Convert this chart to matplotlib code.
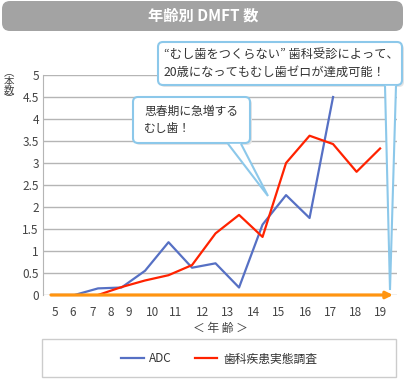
import matplotlib
matplotlib.use("Agg")
import matplotlib.pyplot as plt
from matplotlib.patches import FancyBboxPatch, Polygon, Rectangle
from matplotlib.transforms import Affine2D

plt.rcParams['font.family'] = ['Noto Sans CJK JP', 'DejaVu Sans']

# data
ages_adc = [5, 6, 7, 8, 9, 10, 11, 12, 13, 14, 15, 16, 17]
adc = [0, 0, 0.15, 0.17, 0.55, 1.2, 0.62, 0.72, 0.17, 1.6, 2.27, 1.75, 4.5]
ages_survey = [7, 8, 9, 10, 11, 12, 13, 14, 15, 16, 17, 18, 19]
survey = [0, 0.18, 0.33, 0.45, 0.68, 1.4, 1.82, 1.32, 3.0, 3.62, 3.43, 2.8, 3.33]
tick_labels = [str(a) for a in range(5, 20)]
# label positions are offset from the data points in the original
tick_pos = [5.17, 5.94, 6.79, 7.55, 8.32, 9.30, 10.32, 11.43, 12.49, 13.6,
            14.7, 15.81, 16.89, 17.94, 19.0]

fig = plt.figure(figsize=(4.06, 3.80), dpi=100)
W, H = 406, 380
ax = fig.add_axes([43 / W, 85 / H, 354 / W, 220 / H])

ax.set_xlim(4.66, 19.72)
ax.set_ylim(0, 5)
ax.set_yticks([i * 0.5 for i in range(11)])
ax.set_yticklabels(['0', '0.5', '1', '1.5', '2', '2.5', '3', '3.5', '4', '4.5', '5'])
ax.set_xticks(tick_pos)
ax.set_xticklabels(tick_labels)
ax.tick_params(length=0, labelsize=8.5, colors='#444444', pad=3)
ax.tick_params(axis='x', pad=8)
ax.grid(axis='y', color='#b5b5b5', lw=1)
ax.set_axisbelow(True)
for s in ['top', 'right', 'bottom']:
    ax.spines[s].set_visible(False)
ax.spines['left'].set_color('#b5b5b5')

l1, = ax.plot(ages_adc, adc, color='#5670c4', lw=1.6, label='ADC')
l2, = ax.plot(ages_survey, survey, color='#ff2200', lw=1.6, label='歯科疾患実態調査')
ax.annotate('', xy=(19.55, 0), xytext=(5.0, 0),
            arrowprops=dict(arrowstyle='-|>', color='#ff9410', lw=2.3,
                            mutation_scale=10, shrinkA=0, shrinkB=0),
            annotation_clip=False)

ax.set_xlabel('＜ 年 齢 ＞', fontsize=8.5, color='#444444', labelpad=2)

# pixel-space transform (y flipped by hand)
pt = Affine2D().scale(1 / W, 1 / H) + fig.transFigure
fy = lambda y: H - y

# title bar
fig.patches.append(FancyBboxPatch((2, fy(31)), 401, 30,
                                  boxstyle='round,pad=0,rounding_size=8',
                                  fc='#a3a3a3', ec='none', transform=pt))
fig.text(203 / W, 1 - 16 / H, '年齢別 DMFT 数', color='white', fontsize=11,
         fontweight='bold', ha='center', va='center')

# y label
fig.text(9 / W, 1 - 86 / H, '︵\n本\n数\n︶', fontsize=7.5, color='#444444',
         ha='center', va='center', linespacing=0.85)


def callout(x0, y0, x1, y1, base, tip, text, tx, ty, fs):
    sh = FancyBboxPatch((x0 + 2, fy(y1 + 2)), x1 - x0, y1 - y0,
                        boxstyle='round,pad=0,rounding_size=5',
                        fc='#e4e4e4', ec='none', transform=pt)
    box = FancyBboxPatch((x0, fy(y1)), x1 - x0, y1 - y0,
                         boxstyle='round,pad=0,rounding_size=5',
                         fc='white', ec='#8cc8ea', lw=1.5, transform=pt)
    tail = Polygon([(base[0], fy(y1 + 0.8)), (tip[0], fy(tip[1])),
                    (base[1], fy(y1 + 0.8))], closed=False,
                   fc='white', ec='#8cc8ea', lw=1.5, transform=pt)
    fig.patches.extend([sh, box, tail])
    fig.text(tx / W, 1 - ty / H, text, fontsize=fs, color='#333333',
             ha='left', va='center', linespacing=1.4)


callout(158, 42, 402, 85, (385, 396), (390, 290),
        '“むし歯をつくらない” 歯科受診によって、\n20歳になってもむし歯ゼロが達成可能！',
        164, 63.5, 8.8)
callout(133, 97, 250, 143, (228, 241), (268, 196),
        '思春期に急増する\nむし歯！', 144, 120, 8.5)

# legend
fig.patches.append(Rectangle((42, fy(377)), 354, 38, fc='white',
                             ec='#cccccc', lw=1, transform=pt))
fig.legend(handles=[l1, l2], loc='center', bbox_to_anchor=(219 / W, 1 - 359 / H),
           ncol=2, frameon=False, fontsize=8.5, handlelength=1.9,
           handletextpad=0.5, columnspacing=1.9, labelcolor='#333333')

fig.savefig('out.png', dpi=100)
